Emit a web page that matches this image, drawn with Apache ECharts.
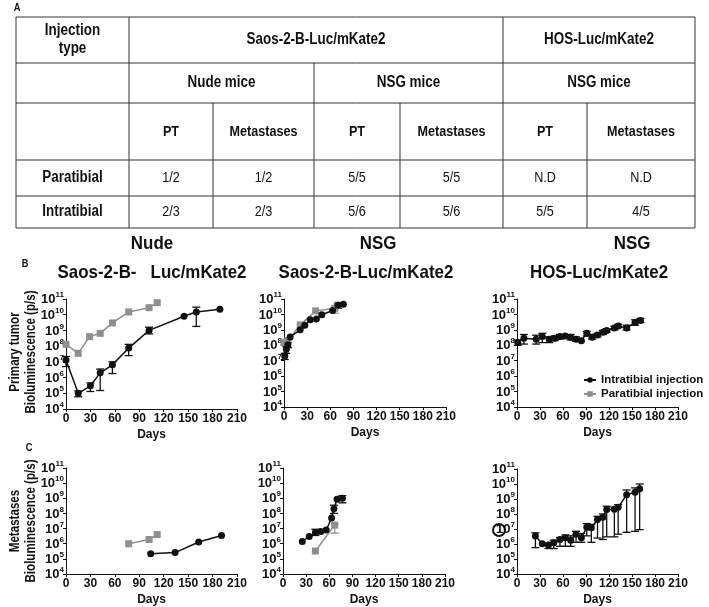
<!DOCTYPE html>
<html><head><meta charset="utf-8">
<script src="https://cdn.jsdelivr.net/npm/echarts@6/dist/echarts.min.js"></script>
<style>html,body{margin:0;padding:0;background:#fff}#c{width:709px;height:607px}</style>
</head><body><div id="c"></div>
<script>
// ---------- data ----------
const xTicks = [0, 30, 60, 90, 120, 150, 180, 210];
const yMin = 1e4, yMax = 1e11;

const tableRow1 = ['Injection\ntype', 'Saos-2-B-Luc/mKate2', 'HOS-Luc/mKate2'];
const tableRow2 = ['Nude mice', 'NSG mice', 'NSG mice'];
const tableRow3 = ['PT', 'Metastases', 'PT', 'Metastases', 'PT', 'Metastases'];
const tableParatibial = ['Paratibial', '1/2', '1/2', '5/5', '5/5', 'N.D', 'N.D'];
const tableIntratibial = ['Intratibial', '2/3', '2/3', '5/6', '5/6', '5/5', '4/5'];

const panelTop = ['Nude', 'NSG', 'NSG'];
const panelSub = ['Saos-2-B-   Luc/mKate2', 'Saos-2-B-Luc/mKate2', 'HOS-Luc/mKate2'];
const seriesNames = ['Intratibial injection', 'Paratibial injection'];

// B1: Nude, Saos-2-B, primary tumor
const b1ItDays = [0, 15, 30, 42, 57, 77, 102, 145, 160, 189];
const b1ItVals = [1.3e7, 1.0e5, 3e5, 2e6, 6.5e6, 7.5e7, 1.0e9, 8e9, 1.5e10, 2.2e10];
const b1ItErr = [[0, 5e6, 2.2e7], [15, 6e4, 1.4e5], [30, 1.3e5, 4.5e5], [42, 1.5e5, 3.5e6], [57, 1.8e6, 1e7], [77, 2.5e7, 1.3e8], [102, 6e8, 1.6e9], [160, 1.8e9, 3e10]];
const b1PtDays = [0, 15, 29, 42, 57, 77, 102, 112];
const b1PtVals = [1.3e8, 3.5e7, 4e8, 6.5e8, 3e9, 1.5e10, 2.8e10, 5.8e10];

// B2: NSG, Saos-2-B, primary tumor
const b2ItDays = [1, 3, 5, 8, 21, 27, 34, 42, 49, 63, 70, 77];
const b2ItVals = [2e7, 5.5e7, 1.1e8, 3.5e8, 1e9, 2e9, 4.5e9, 5e9, 9.5e9, 1.8e10, 4e10, 4.5e10];
const b2ItErr = [[1, 1.2e7, 3e7], [3, 3e7, 8e7], [5, 7e7, 1.5e8], [70, 2.5e10, 5e10]];
const b2PtDays = [0, 5, 21, 41, 66, 69];
const b2PtVals = [1.6e8, 2e8, 2.1e9, 1.7e10, 2.5e10, 4e10];
const b2PtErr = [[0, 1e8, 2.2e8], [66, 1.2e10, 3.5e10]];

// B3: NSG, HOS, primary tumor
const b3ItDays = [1, 9, 25, 33, 42, 49, 56, 63, 70, 77, 84, 91, 98, 105, 112, 117, 127, 132, 143, 154, 161];
const b3ItVals = [1.5e8, 2.9e8, 2.5e8, 3.7e8, 2.5e8, 2.9e8, 3.7e8, 4e8, 3.3e8, 2.5e8, 2e8, 6e8, 3.3e8, 4.7e8, 7e8, 9e8, 1.3e9, 1.8e9, 1.3e9, 3e9, 4e9];
const b3ItErr = [[1, 1e8, 2.2e8], [9, 1.2e8, 5e8], [25, 1.2e8, 4.5e8], [33, 1.5e8, 6e8], [42, 1.5e8, 3.5e8], [49, 2e8, 4e8], [56, 2.5e8, 5e8], [70, 2.2e8, 5e8], [77, 1.8e8, 3.5e8], [91, 4e8, 8e8], [98, 2.5e8, 5e8], [105, 3.5e8, 6e8], [112, 5e8, 9e8], [117, 7e8, 1.2e9], [127, 1e9, 1.7e9], [132, 1.4e9, 2.3e9], [143, 1e9, 2e9], [154, 2e9, 4.5e9], [161, 3e9, 5.5e9]];

// C1: Nude, Saos-2-B, metastases
const c1ItDays = [104, 134, 163, 191];
const c1ItVals = [2.2e5, 2.6e5, 1.3e6, 3.5e6];
const c1PtDays = [77, 102, 112];
const c1PtVals = [1e6, 1.9e6, 4e6];

// C2: NSG, Saos-2-B, metastases
const c2ItDays = [25, 34, 42, 49, 56, 63, 66, 70, 77];
const c2ItVals = [1.4e6, 3e6, 5.5e6, 6.5e6, 8e6, 5e7, 2e8, 8.5e8, 1e9];
const c2ItErr = [[42, 3.5e6, 9e6], [66, 1e8, 3.5e8], [77, 5e8, 1.5e9]];
const c2PtDays = [42, 67];
const c2PtVals = [3.3e5, 1.7e7];
const c2PtErr = [[67, 5e6, 2e7]];

// C3: NSG, HOS, metastases
const c3ItDays = [24, 33, 41, 48, 56, 63, 70, 77, 84, 91, 97, 105, 112, 117, 127, 132, 143, 154, 160];
const c3ItVals = [3.4e6, 1.05e6, 8.5e5, 1.2e6, 2e6, 2.6e6, 1.8e6, 4.4e6, 2.6e6, 1.3e7, 1.2e7, 4.3e7, 6e7, 2e8, 2.1e8, 2.8e8, 1.9e9, 2.8e9, 4.8e9];
const c3ItErr = [[24, 5.7e5, 5.6e6], [41, 5e5, 1.1e6], [48, 5e5, 1.8e6], [56, 7e5, 2.7e6], [63, 7e5, 4e6], [70, 7e5, 3.5e6], [77, 1.3e6, 7e6], [84, 1.3e6, 5e6], [91, 3.5e6, 2.3e7], [97, 1.3e6, 2e7], [105, 2.5e6, 7e7], [112, 2e6, 1e8], [117, 3e6, 3.3e8], [127, 3e6, 2.8e8], [132, 4.5e6, 4.2e8], [143, 6e6, 4e9], [154, 7e6, 5.5e9], [160, 9e6, 1e10]];

// ---------- layout ----------
const FONT = '"Liberation Sans", Arial, sans-serif';
const NARROW = 0.84;
const grids = [
  {left: 66, top: 299, width: 171, height: 110},
  {left: 284, top: 299, width: 162, height: 108},
  {left: 517, top: 299, width: 161, height: 108},
  {left: 66, top: 468, width: 171, height: 108},
  {left: 283, top: 468, width: 162, height: 107},
  {left: 517, top: 469, width: 161, height: 106}
];
const BLACK = '#111', GRAY = '#8f8f8f';

const xAxes = grids.map((g, i) => ({
  type: 'value', gridIndex: i, min: 0, max: 210, interval: 30,
  name: 'Days', nameLocation: 'middle', nameGap: 20,
  nameTextStyle: {fontFamily: FONT, fontWeight: 'bold', fontSize: 12, color: '#111'},
  axisLine: {lineStyle: {color: '#111', width: 1}},
  axisTick: {length: 3, lineStyle: {color: '#111'}},
  axisLabel: {fontFamily: FONT, fontWeight: 'bold', fontSize: 12, color: '#111', margin: 4},
  splitLine: {show: false}
}));
const yAxes = grids.map((g, i) => ({
  type: 'log', logBase: 10, gridIndex: i, min: yMin, max: yMax,
  axisLine: {show: true, lineStyle: {color: '#111', width: 1}},
  axisTick: {show: true, length: 3, lineStyle: {color: '#111'}},
  minorTick: {show: false},
  splitLine: {show: false},
  axisLabel: {
    margin: 2,
    formatter: v => '{b|10}{s|' + Math.round(Math.log10(v)) + '}',
    rich: {
      b: {fontFamily: FONT, fontWeight: 'bold', fontSize: 13, color: '#111', verticalAlign: 'bottom', lineHeight: 14},
      s: {fontFamily: FONT, fontWeight: 'bold', fontSize: 8, color: '#111', verticalAlign: 'bottom', lineHeight: 14, padding: [0, 0, 7, 0]}
    }
  }
}));

function lineSeries(name, days, vals, gi, color, symbol) {
  return {
    name, type: 'line', xAxisIndex: gi, yAxisIndex: gi,
    data: days.map((d, k) => [d, vals[k]]),
    symbol, symbolSize: 7,
    lineStyle: {color, width: 1.5}, itemStyle: {color},
    z: 3, animation: false
  };
}
function errSeries(err, gi, color) {
  return {
    type: 'custom', xAxisIndex: gi, yAxisIndex: gi, data: err, z: 2, animation: false,
    encode: {x: 0, y: [1, 2]},
    renderItem: (params, api) => {
      const x = api.value(0), lo = api.value(1), hi = api.value(2);
      const p1 = api.coord([x, lo]), p2 = api.coord([x, hi]);
      const w = 4;
      const st = {stroke: color, lineWidth: 1.3};
      return {type: 'group', children: [
        {type: 'line', shape: {x1: p1[0], y1: p1[1], x2: p2[0], y2: p2[1]}, style: st},
        {type: 'line', shape: {x1: p1[0] - w, y1: p1[1], x2: p1[0] + w, y2: p1[1]}, style: st},
        {type: 'line', shape: {x1: p2[0] - w, y1: p2[1], x2: p2[0] + w, y2: p2[1]}, style: st}
      ]};
    }
  };
}

const series = [
  errSeries(b1ItErr, 0, BLACK),
  lineSeries(seriesNames[1], b1PtDays, b1PtVals, 0, GRAY, 'rect'),
  lineSeries(seriesNames[0], b1ItDays, b1ItVals, 0, BLACK, 'circle'),
  errSeries(b2PtErr, 1, GRAY),
  errSeries(b2ItErr, 1, BLACK),
  lineSeries(seriesNames[1], b2PtDays, b2PtVals, 1, GRAY, 'rect'),
  lineSeries(seriesNames[0], b2ItDays, b2ItVals, 1, BLACK, 'circle'),
  errSeries(b3ItErr, 2, BLACK),
  lineSeries(seriesNames[0], b3ItDays, b3ItVals, 2, BLACK, 'circle'),
  lineSeries(seriesNames[1], c1PtDays, c1PtVals, 3, GRAY, 'rect'),
  lineSeries(seriesNames[0], c1ItDays, c1ItVals, 3, BLACK, 'circle'),
  errSeries(c2PtErr, 4, GRAY),
  errSeries(c2ItErr, 4, BLACK),
  lineSeries(seriesNames[1], c2PtDays, c2PtVals, 4, GRAY, 'rect'),
  lineSeries(seriesNames[0], c2ItDays, c2ItVals, 4, BLACK, 'circle'),
  errSeries(c3ItErr, 5, BLACK),
  lineSeries(seriesNames[0], c3ItDays, c3ItVals, 5, BLACK, 'circle')
];

// ---------- table (graphic) ----------
const colX = [16, 129, 213, 314, 400, 503, 587, 695];
const rowY = [17, 63, 103, 160, 196, 228];
const g = [];
const LC = '#333';
function hline(x1, x2, y) { g.push({type: 'line', shape: {x1, y1: y, x2, y2: y}, style: {stroke: LC, lineWidth: 1}}); }
function vline(x, y1, y2) { g.push({type: 'line', shape: {x1: x, y1, x2: x, y2}, style: {stroke: LC, lineWidth: 1}}); }
function txt(text, x, y, bold, size, sx) {
  g.push({type: 'text', x, y, scaleX: sx || NARROW, style: {text, fill: '#111', font: (bold ? 'bold ' : '') + size + 'px ' + FONT, align: 'center', verticalAlign: 'middle', lineHeight: size + 2}});
}
txt('A', 17, 8, true, 11);
g.push({type: 'rect', shape: {x: colX[0], y: rowY[0], width: colX[7] - colX[0], height: rowY[5] - rowY[0]}, style: {fill: 'none', stroke: LC, lineWidth: 1}});
for (let r = 1; r < 5; r++) hline(colX[0], colX[7], rowY[r]);
vline(colX[1], rowY[0], rowY[5]);
vline(colX[5], rowY[0], rowY[5]);
vline(colX[3], rowY[1], rowY[5]);
[2, 4, 6].forEach(c => vline(colX[c], rowY[2], rowY[5]));
const mid = (a, b) => (a + b) / 2;
txt(tableRow1[0], mid(colX[0], colX[1]), mid(rowY[0], rowY[1]), true, 16);
txt(tableRow1[1], mid(colX[1], colX[5]), mid(rowY[0], rowY[1]), true, 16);
txt(tableRow1[2], mid(colX[5], colX[7]), mid(rowY[0], rowY[1]), true, 16);
tableRow2.forEach((t, k) => txt(t, mid(colX[1 + 2 * k], colX[3 + 2 * k]), mid(rowY[1], rowY[2]), true, 16));
tableRow3.forEach((t, k) => txt(t, mid(colX[1 + k], colX[2 + k]), mid(rowY[2], rowY[3]), true, 15));
tableParatibial.forEach((t, k) => txt(t, mid(colX[k], colX[k + 1]), mid(rowY[3], rowY[4]), k === 0, k === 0 ? 16 : 15));
tableIntratibial.forEach((t, k) => txt(t, mid(colX[k], colX[k + 1]), mid(rowY[4], rowY[5]), k === 0, k === 0 ? 16 : 15));

// panel titles
const topX = [152, 378, 632];
const subX = [152, 366, 599];
panelTop.forEach((t, k) => txt(t, topX[k], 244, true, 19, 0.89));
panelSub.forEach((t, k) => txt(t, subX[k], 273, true, 19, 0.89));
txt('B', 25, 264, true, 11);
txt('C', 29, 448, true, 11);
// y axis titles
g.push({type: 'text', x: 23, y: 352, rotation: Math.PI / 2, scaleX: 0.8, style: {text: 'Primary tumor\nBioluminescence (p/s)', fill: '#111', font: 'bold 14.5px ' + FONT, align: 'center', verticalAlign: 'middle', lineHeight: 16}});
g.push({type: 'text', x: 23, y: 521, rotation: Math.PI / 2, scaleX: 0.8, style: {text: 'Metastases\nBioluminescence (p/s)', fill: '#111', font: 'bold 14.5px ' + FONT, align: 'center', verticalAlign: 'middle', lineHeight: 16}});
// circled mark in last panel
g.push({type: 'circle', shape: {cx: 499, cy: 530, r: 6}, style: {fill: 'none', stroke: '#111', lineWidth: 2}});

const chart = echarts.init(document.getElementById('c'), null, {renderer: 'canvas'});
chart.setOption({
  animation: false,
  backgroundColor: '#fff',
  grid: grids,
  xAxis: xAxes,
  yAxis: yAxes,
  legend: {
    data: seriesNames,
    left: 578, top: 369, orient: 'vertical', itemWidth: 12, itemHeight: 7, itemGap: 2,
    textStyle: {fontFamily: FONT, fontWeight: 'bold', fontSize: 11.5, color: '#111'},
    selectedMode: false
  },
  series,
  graphic: g
});
</script></body></html>
